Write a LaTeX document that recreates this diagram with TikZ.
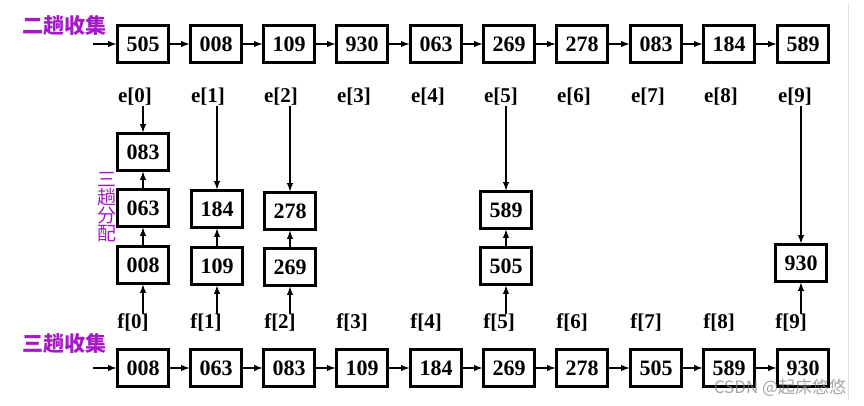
\documentclass[tikz,border=0pt]{standalone}
\usepackage{fontspec}
\setmainfont{Liberation Serif}
\newfontfamily\cjkfont{Noto Sans CJK SC}
\usepackage{xcolor}
\usetikzlibrary{arrows}
\definecolor{tangpurple}{RGB}{165,25,200}

\begin{document}
\begin{tikzpicture}[x=1pt,y=1pt]
                \tikzstyle{every node}+=[inner sep=0pt]
                \tikzstyle{rec}=[draw=black, line width=2.2pt, minimum width=51pt, minimum height=37pt, font=\fontsize{22}{22}\selectfont\bfseries]
                \tikzstyle{idx}=[font=\fontsize{21}{21}\selectfont\bfseries]
                \tikzstyle{link}=[black, line width=1.8pt, -latex]
                \tikzstyle{tang}=[text=tangpurple, font=\fontsize{21}{21}\selectfont\cjkfont\bfseries]
                \useasboundingbox (0,0) rectangle (864,-405);
                \draw [gray!25, line width=1pt] (848,-3) -- (848,-400);
                % second pass result
                \node [tang] (lab2) at (64,-26) {二趟收集};
                \coordinate (in2) at (93,-44);
                \node [rec] (t0) at (143,-44) {505};
                \node [rec] (t1) at (216,-44) {008};
                \node [rec] (t2) at (289,-44) {109};
                \node [rec] (t3) at (362,-44) {930};
                \node [rec] (t4) at (436,-44) {063};
                \node [rec] (t5) at (509,-44) {269};
                \node [rec] (t6) at (582,-44) {278};
                \node [rec] (t7) at (656,-44) {083};
                \node [rec] (t8) at (729,-44) {184};
                \node [rec] (t9) at (803,-44) {589};
                \draw [link] (in2) -- (t0);
                \draw [link] (t0) -- (t1);
                \draw [link] (t1) -- (t2);
                \draw [link] (t2) -- (t3);
                \draw [link] (t3) -- (t4);
                \draw [link] (t4) -- (t5);
                \draw [link] (t5) -- (t6);
                \draw [link] (t6) -- (t7);
                \draw [link] (t7) -- (t8);
                \draw [link] (t8) -- (t9);
                % queue heads
                \node [idx] (e0) at (135,-97) {e[0]};
                \node [idx] (e1) at (208,-97) {e[1]};
                \node [idx] (e2) at (281,-97) {e[2]};
                \node [idx] (e3) at (354,-97) {e[3]};
                \node [idx] (e4) at (428,-97) {e[4]};
                \node [idx] (e5) at (501,-97) {e[5]};
                \node [idx] (e6) at (574,-97) {e[6]};
                \node [idx] (e7) at (648,-97) {e[7]};
                \node [idx] (e8) at (721,-97) {e[8]};
                \node [idx] (e9) at (795,-97) {e[9]};
                % third pass distribution
                \node [tang, font=\fontsize{19}{18}\selectfont\cjkfont, align=center] (lab3) at (107,-207) {三\\趟\\分\\配};
                \node [rec] (q0a) at (143,-152) {083};
                \node [rec] (q0b) at (143,-208) {063};
                \node [rec] (q0c) at (143,-265) {008};
                \node [rec] (q1a) at (217,-209) {184};
                \node [rec] (q1b) at (217,-266) {109};
                \node [rec] (q2a) at (290,-211) {278};
                \node [rec] (q2b) at (290,-267) {269};
                \node [rec] (q5a) at (506,-210) {589};
                \node [rec] (q5b) at (506,-266) {505};
                \node [rec] (q9a) at (801,-263) {930};
                \draw [link] (e0.south -| q0a.north) -- (q0a);
                \draw [link] (q0b) -- (q0a);
                \draw [link] (q0c) -- (q0b);
                \draw [link] (e1.south -| q1a.north) -- (q1a);
                \draw [link] (q1b) -- (q1a);
                \draw [link] (e2.south -| q2a.north) -- (q2a);
                \draw [link] (q2b) -- (q2a);
                \draw [link] (e5.south -| q5a.north) -- (q5a);
                \draw [link] (q5b) -- (q5a);
                \draw [link] (e9.south -| q9a.north) -- (q9a);
                % queue tails
                \node [idx] (f0) at (133,-323) {f[0]};
                \node [idx] (f1) at (206,-323) {f[1]};
                \node [idx] (f2) at (280,-323) {f[2]};
                \node [idx] (f3) at (352,-323) {f[3]};
                \node [idx] (f4) at (426,-323) {f[4]};
                \node [idx] (f5) at (499,-323) {f[5]};
                \node [idx] (f6) at (572,-323) {f[6]};
                \node [idx] (f7) at (646,-323) {f[7]};
                \node [idx] (f8) at (719,-323) {f[8]};
                \node [idx] (f9) at (791,-323) {f[9]};
                \draw [link] (f0.north -| q0c.south) -- (q0c);
                \draw [link] (f1.north -| q1b.south) -- (q1b);
                \draw [link] (f2.north -| q2b.south) -- (q2b);
                \draw [link] (f5.north -| q5b.south) -- (q5b);
                \draw [link] (f9.north -| q9a.south) -- (q9a);
                % third pass result
                \node [tang] (lab4) at (64,-344) {三趟收集};
                \coordinate (in3) at (93,-368);
                \node [rec] (b0) at (143,-368) {008};
                \node [rec] (b1) at (216,-368) {063};
                \node [rec] (b2) at (289,-368) {083};
                \node [rec] (b3) at (362,-368) {109};
                \node [rec] (b4) at (436,-368) {184};
                \node [rec] (b5) at (509,-368) {269};
                \node [rec] (b6) at (582,-368) {278};
                \node [rec] (b7) at (656,-368) {505};
                \node [rec] (b8) at (729,-368) {589};
                \node [rec] (b9) at (803,-368) {930};
                \draw [link] (in3) -- (b0);
                \draw [link] (b0) -- (b1);
                \draw [link] (b1) -- (b2);
                \draw [link] (b2) -- (b3);
                \draw [link] (b3) -- (b4);
                \draw [link] (b4) -- (b5);
                \draw [link] (b5) -- (b6);
                \draw [link] (b6) -- (b7);
                \draw [link] (b7) -- (b8);
                \draw [link] (b8) -- (b9);
                \node [text=gray, opacity=0.7, font=\fontsize{17}{17}\selectfont\cjkfont] (mark) at (780,-388) {CSDN @起床悠悠};
\end{tikzpicture}
\end{document}
